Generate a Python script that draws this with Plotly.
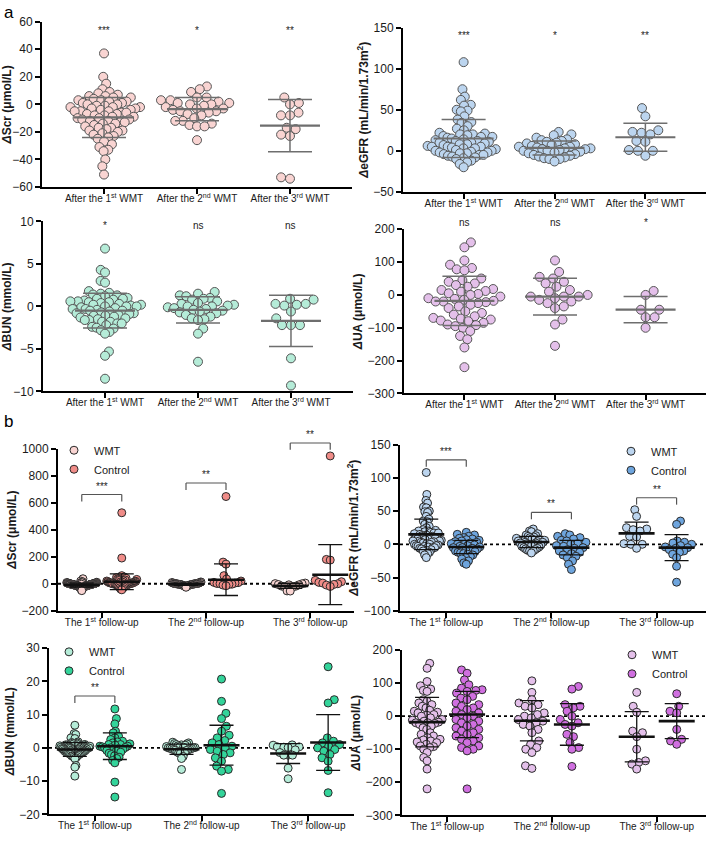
import numpy as np
import plotly.graph_objects as go

# ------------------------------------------------------------------ data
cat_a = ["After the 1<sup>st</sup> WMT", "After the 2<sup>nd</sup> WMT", "After the 3<sup>rd</sup> WMT"]
cat_b = ["The 1<sup>st</sup> follow-up", "The 2<sup>nd</sup> follow-up", "The 3<sup>rd</sup> follow-up"]

# ΔScr (µmol/L), WMT
scr_wmt_1 = [37, 20, 15, 11, 9, 8, 7, 6, 6, 5, 5, 4, 3, 3, 2, 2, 1, 1, 0, 0, -1, -1, -2, -2, -2, -3, -3, -4, -4,
             -5, -5, -5, -6, -6, -7, -7, -8, -8, -9, -9, -10, -10, -11, -11, -12, -12, -13, -13, -14, -14, -15,
             -16, -17, -17, -18, -19, -19, -20, -21, -22, -23, -24, -25, -27, -29, -31, -33, -34, -40, -45, -51]
scr_wmt_2 = [13, 11, 9, 5, 5, 3, 3, 2, 1, 1, 0, 0, -1, -2, -3, -3, -4, -5, -5, -6, -7, -8, -10, -12, -12, -14,
             -15, -16, -16, -26]
scr_wmt_3 = [5, 1, 0, -6, -8, -8, -17, -18, -22, -23, -53, -54]
scr_ctl_1 = [525, 190, 60, 50, 45, 40, 35, 32, 30, 28, 25, 22, 20, 18, 16, 15, 13, 12, 10, 9, 8, 6, 5, 4, 3, 2,
             1, 0, 0, -1, -2, -3, -5, -6, -8, -10, -12, -15, -18, -20, -25, -30, -35, -40, -45]
scr_ctl_2 = [645, 160, 145, 60, 35, 20, 10, 8, 5, 2, 0, -3, -5, -10, -15]
scr_ctl_3 = [945, 180, 175, 25, 15, 10, 5, 0, -5, -10, -20]

# ΔeGFR (mL/min/1.73m2), WMT
egfr_wmt_1 = [108, 75, 66, 62, 56, 55, 50, 49, 48, 42, 38, 35, 34, 30, 27, 25, 22, 21, 20, 20, 19, 18, 17, 17, 16,
              15, 14, 13, 12, 12, 11, 10, 10, 9, 8, 8, 7, 6, 5, 5, 5, 4, 3, 3, 2, 1, 0, 0, -1, -2, -2, -3, -3,
              -4, -5, -5, -6, -7, -8, -9, -10, -12, -14, -16, -20]
egfr_wmt_2 = [23, 20, 19, 16, 14, 13, 12, 11, 10, 9, 8, 7, 6, 5, 5, 4, 3, 3, 2, 2, 1, 0, 0, -1, -2, -3, -4, -5,
              -6, -7, -8, -9, -10, -10, -13]
egfr_wmt_3 = [52, 42, 25, 23, 22, 20, 12, 11, 1, 0, 0, -6]
egfr_ctl_1 = [18, 15, 14, 12, 10, 9, 8, 7, 6, 5, 4, 3, 2, 1, 0, 0, -1, -2, -3, -4, -5, -5, -6, -7, -8, -9, -10,
              -11, -12, -13, -14, -15, -16, -18, -20, -22, -25, -28, -30]
egfr_ctl_2 = [16, 14, 12, 10, 8, 6, 5, 3, 1, 0, -2, -3, -5, -6, -8, -10, -12, -14, -16, -18, -20, -25, -30, -38]
egfr_ctl_3 = [35, 30, 5, 3, 2, 0, -2, -4, -5, -6, -8, -10, -12, -15, -20, -33, -57]

# ΔBUN (mmol/L), WMT
bun_wmt_1 = [6.8, 4.3, 4.0, 3.0, 2.8, 1.8, 1.6, 1.5, 1.4, 1.3, 1.2, 1.0, 0.9, 0.9, 0.8, 0.7, 0.6, 0.6, 0.5, 0.5,
             0.4, 0.3, 0.2, 0.2, 0.1, 0.0, 0.0, 0.0, -0.1, -0.2, -0.3, -0.3, -0.4, -0.5, -0.5, -0.6, -0.7, -0.8,
             -0.8, -0.9, -1.0, -1.1, -1.1, -1.2, -1.3, -1.4, -1.5, -1.6, -1.6, -1.8, -1.8, -2.0, -2.0, -2.2, -2.4,
             -2.5, -2.6, -2.8, -3.0, -3.2, -5.3, -5.8, -8.5]
bun_wmt_2 = [1.7, 1.5, 1.3, 1.2, 1.0, 0.9, 0.8, 0.6, 0.4, 0.3, 0.2, 0.1, 0.0, 0.0, -0.1, -0.2, -0.3, -0.4, -0.5,
             -0.6, -0.7, -0.8, -1.0, -1.2, -1.4, -1.5, -1.6, -2.6, -3.2, -6.5]
bun_wmt_3 = [0.9, 0.8, 0.3, 0.3, 0.2, 0.1, -0.6, -1.4, -2.2, -2.2, -2.2, -6.1, -9.3]
bun_ctl_1 = [11.7, 8.8, 7.2, 5.0, 4.5, 3.5, 3.0, 2.5, 2.0, 1.8, 1.5, 1.2, 1.0, 1.0, 0.8, 0.5, 0.5, 0.3, 0.1, 0.0,
             0.0, -0.2, -0.4, -0.6, -0.8, -1.0, -1.3, -1.6, -2.0, -2.4, -2.8, -3.2, -3.8, -4.5, -10.3, -14.8]
bun_ctl_2 = [20.7, 14.0, 10.4, 8.8, 6.5, 5.0, 3.8, 3.0, 2.2, 1.5, 1.0, 0.5, 0.0, -0.5, -1.0, -1.5, -2.0, -3.0,
             -4.0, -5.5, -6.5, -7.0, -13.7]
bun_ctl_3 = [24.4, 14.5, 13.5, 3.0, 2.0, 1.5, 1.0, 0.5, 0.0, -0.5, -1.0, -2.0, -3.0, -4.0, -6.8, -13.5]

# ΔUA (µmol/L), WMT
ua_wmt_1 = [160, 145, 105, 92, 82, 78, 75, 50, 45, 40, 35, 30, 25, 18, 15, 12, 10, 5, 3, 0, -5, -10, -12, -15,
            -18, -20, -20, -22, -25, -30, -35, -40, -50, -55, -60, -65, -70, -72, -75, -78, -80, -85, -90, -92,
            -95, -100, -110, -125, -135, -160, -220]
ua_wmt_2 = [105, 70, 55, 50, 40, 35, 25, 15, 10, 0, -5, -5, -5, -10, -15, -20, -25, -35, -40, -75, -90, -155]
ua_wmt_3 = [12, 0, -45, -45, -68, -68, -100]
ua_wmt_b2 = [107, 72, 50, 40, 35, 30, 25, 10, 5, 0, -5, -10, -15, -20, -25, -30, -40, -50, -75, -85, -95, -100,
             -110, -150, -158]
ua_wmt_b3 = [72, 30, 12, -45, -50, -62, -100, -135, -140, -145, -160]
ua_ctl_1 = [140, 130, 110, 95, 85, 80, 78, 75, 70, 60, 55, 50, 40, 35, 30, 25, 20, 15, 10, 5, 0, -5, -10, -15,
            -20, -25, -30, -35, -40, -45, -50, -55, -60, -65, -70, -75, -80, -90, -95, -100, -105, -220]
ua_ctl_2 = [90, 82, 35, 30, 25, 15, 0, -10, -20, -25, -30, -55, -62, -80, -95, -100, -152]
ua_ctl_3 = [68, 30, 15, 10, -40, -70, -75, -85]

# means and SDs
scr_a_mean, scr_a_sd = [-9.5, -3.5, -15.5], [14.5, 8.5, 19]
egfr_a_mean, egfr_a_sd = [15, 3.5, 16.5], [23, 8.5, 17]
bun_a_mean, bun_a_sd = [-0.5, -0.4, -1.7], [2.05, 1.55, 3.0]
ua_a_mean, ua_a_sd = [-18, -5, -45], [75, 56, 40]

scr_ctl_mean, scr_ctl_sd = [15, 30, 67], [58, 117, 222]
egfr_ctl_mean, egfr_ctl_sd = [-4, -5, -5], [10, 11, 19.5]
bun_ctl_mean, bun_ctl_sd = [0.5, 0.8, 1.6], [4.0, 6.0, 8.4]
ua_wmt_b_mean, ua_wmt_b_sd = [-18, -14, -62], [75, 61, 76]
ua_ctl_mean, ua_ctl_sd = [5, -25, -15], [70, 63, 53]

sig_scr_a = ["***", "*", "**"]
sig_egfr_a = ["***", "*", "**"]
sig_bun_a = ["*", "ns", "ns"]
sig_ua_a = ["ns", "ns", "*"]

sig_scr_b, sig_scr_b_level = ["***", "**", "**"], [660, 745, 1041]
sig_egfr_b, sig_egfr_b_level = ["***", "**", "**"], [127, 48, 70]
sig_bun_b, sig_bun_b_level = ["**"], [15.6]

# ------------------------------------------------------------------ colours
C = dict(
    scr=("#f9d4d2", "#f08c88"),
    egfr=("#bcd5ef", "#6ea5de"),
    bun=("#b5ecd8", "#33d49a"),
    ua=("#e4c0ea", "#d06fe0"),
)

# ------------------------------------------------------------------ geometry
W, H = 708, 841
boxes = {  # left, right, top, bottom in px
    1: (42, 352, 15, 183), 2: (403, 706, 21, 188),
    3: (43, 353, 218, 391), 4: (404, 706, 226, 393),
    5: (58, 354, 449, 614), 6: (400, 706, 445, 614),
    7: (49, 354, 652, 821), 8: (402, 706, 654, 822),
}
xr = {1: (-0.667, 2.667), 2: (-0.667, 2.667), 3: (-0.667, 2.667), 4: (-0.667, 2.667),
      5: (-0.42, 2.42), 6: (-0.44, 2.47), 7: (-0.43, 2.43), 8: (-0.43, 2.47)}
yr = {1: (-60, 60, 20), 2: (-50, 150, 50), 3: (-10, 10, 5), 4: (-300, 200, 100),
      5: (-200, 1000, 200), 6: (-100, 150, 50), 7: (-20, 30, 10), 8: (-300, 200, 100)}

ST_A = dict(size=9, lw=1, outline="#555555", d=9.0, maxw=36, mean_hw=30, cap=22,
            bar="#6e6e6e", mean_w=2.2, bar_w=1.5)
ST_B = dict(size=8, lw=1, outline="#2a2a2a", d=7.0, maxw=15, mean_hw=18, cap=12,
            bar="#111111", mean_w=2.6, bar_w=1.3)

FONT = "Liberation Sans, Arial, sans-serif"


def sfx(n):
    return "" if n == 1 else str(n)


def ppu(n):
    l, r, t, b = boxes[n]
    return (r - l) / (xr[n][1] - xr[n][0]), (b - t) / (yr[n][1] - yr[n][0])


def swarm(vals, ppu_y, d, maxw):
    ys = np.asarray(vals, float) * ppu_y
    order = np.argsort(ys, kind="stable")
    out = np.zeros(len(ys))
    py, pxs = [], []
    flip = 1
    for i in order:
        y = ys[i]
        cands = [0.0]
        for qy, qx in zip(py, pxs):
            dy = y - qy
            if abs(dy) < d:
                dx = np.sqrt(d * d - dy * dy)
                cands += [qx + dx, qx - dx]
        flip = -flip
        cands.sort(key=lambda c: (round(abs(c), 3), flip * c))
        chosen = cands[-1]
        for c in cands:
            if all((c - qx) ** 2 + (y - qy) ** 2 >= d * d - 1e-6 for qy, qx in zip(py, pxs)):
                chosen = c
                break
        out[i] = chosen
        py.append(y)
        pxs.append(chosen)
    m = np.abs(out).max() if len(out) else 0
    if m > maxw:
        out *= maxw / m
    return out


fig = go.Figure()


def add_points(n, xc, vals, fill, st, name=None, legend=None):
    ux, uy = ppu(n)
    off = swarm(vals, uy, st["d"], st["maxw"]) / ux
    fig.add_trace(go.Scatter(
        x=xc + off, y=vals, mode="markers", xaxis=f"x{sfx(n)}", yaxis=f"y{sfx(n)}",
        marker=dict(size=st["size"], color=fill, line=dict(color=st["outline"], width=st["lw"])),
        cliponaxis=False, hoverinfo="y",
        name=name or "", showlegend=legend is not None, legend=legend or "legend",
    ))


def add_stats(n, xc, mean, sd, st):
    ux, uy = ppu(n)
    hw = st["mean_hw"] / ux
    fig.add_trace(go.Scatter(
        x=[xc], y=[mean], mode="markers", xaxis=f"x{sfx(n)}", yaxis=f"y{sfx(n)}",
        marker=dict(size=1, color="rgba(0,0,0,0)"),
        error_y=dict(type="data", array=[sd], visible=True, color=st["bar"],
                     thickness=st["bar_w"], width=st["cap"]),
        showlegend=False, hoverinfo="skip", cliponaxis=False,
    ))
    fig.add_trace(go.Scatter(
        x=[xc - hw, xc + hw], y=[mean, mean], mode="lines", xaxis=f"x{sfx(n)}", yaxis=f"y{sfx(n)}",
        line=dict(color=st["bar"], width=st["mean_w"]), showlegend=False, hoverinfo="skip",
    ))


annotations, shapes = [], []


def dom(n, v):
    lo, hi, _ = yr[n]
    return (v - lo) / (hi - lo)


# ---------------- panel a
a_panels = [
    (1, [scr_wmt_1, scr_wmt_2, scr_wmt_3], scr_a_mean, scr_a_sd, C["scr"][0], sig_scr_a, 54),
    (2, [egfr_wmt_1, egfr_wmt_2, egfr_wmt_3], egfr_a_mean, egfr_a_sd, C["egfr"][0], sig_egfr_a, 140),
    (3, [bun_wmt_1, bun_wmt_2, bun_wmt_3], bun_a_mean, bun_a_sd, C["bun"][0], sig_bun_a, 9.5),
    (4, [ua_wmt_1, ua_wmt_2, ua_wmt_3], ua_a_mean, ua_a_sd, C["ua"][0], sig_ua_a, 220),
]
for n, groups, means, sds, fill, sig, sig_y in a_panels:
    for i, vals in enumerate(groups):
        add_points(n, i, vals, fill, ST_A)
    for i in range(3):
        add_stats(n, i, means[i], sds[i], ST_A)
    for i, s in enumerate(sig):
        annotations.append(dict(x=i, y=dom(n, sig_y), xref=f"x{sfx(n)}", yref=f"y{sfx(n)} domain", text=s,
                                showarrow=False, font=dict(size=10, color="#222"), yanchor="middle"))

# ---------------- panel b
GROUP_PX = 20
b_panels = [
    (5, "scr", [scr_wmt_1, scr_wmt_2, scr_wmt_3], scr_a_mean, scr_a_sd,
     [scr_ctl_1, scr_ctl_2, scr_ctl_3], scr_ctl_mean, scr_ctl_sd, "legend"),
    (6, "egfr", [egfr_wmt_1, egfr_wmt_2, egfr_wmt_3], egfr_a_mean, egfr_a_sd,
     [egfr_ctl_1, egfr_ctl_2, egfr_ctl_3], egfr_ctl_mean, egfr_ctl_sd, "legend2"),
    (7, "bun", [bun_wmt_1, bun_wmt_2, bun_wmt_3], bun_a_mean, bun_a_sd,
     [bun_ctl_1, bun_ctl_2, bun_ctl_3], bun_ctl_mean, bun_ctl_sd, "legend3"),
    (8, "ua", [ua_wmt_1, ua_wmt_b2, ua_wmt_b3], ua_wmt_b_mean, ua_wmt_b_sd,
     [ua_ctl_1, ua_ctl_2, ua_ctl_3], ua_ctl_mean, ua_ctl_sd, "legend4"),
]
for n, key, wg, wm, ws, cg, cm, cs, leg in b_panels:
    ux, uy = ppu(n)
    g = GROUP_PX / ux
    shapes.append(dict(type="line", xref=f"x{n} domain", x0=0, x1=1, yref=f"y{n}", y0=0, y1=0,
                       line=dict(color="black", width=1.8, dash="dot"), layer="below"))
    for i in range(3):
        add_points(n, i - g, wg[i], C[key][0], ST_B, name="WMT", legend=leg if i == 0 else None)
    for i in range(3):
        add_points(n, i + g, cg[i], C[key][1], ST_B, name="Control", legend=leg if i == 0 else None)
    for i in range(3):
        add_stats(n, i - g, wm[i], ws[i], ST_B)
        add_stats(n, i + g, cm[i], cs[i], ST_B)

brackets = [(5, sig_scr_b, sig_scr_b_level), (6, sig_egfr_b, sig_egfr_b_level), (7, sig_bun_b, sig_bun_b_level)]
for n, labels, levels in brackets:
    ux, uy = ppu(n)
    g = GROUP_PX / ux
    hpx = boxes[n][3] - boxes[n][2]
    for i, (s, lv) in enumerate(zip(labels, levels)):
        yl = dom(n, lv)
        yt = yl - 7 / hpx
        for x0, y0, x1, y1 in [(i - g, yt, i - g, yl), (i - g, yl, i + g, yl), (i + g, yl, i + g, yt)]:
            shapes.append(dict(type="line", xref=f"x{n}", yref=f"y{n} domain", x0=x0, y0=y0, x1=x1, y1=y1,
                               line=dict(color="#555", width=1.2)))
        annotations.append(dict(x=i, y=yl + 1 / hpx, xref=f"x{n}", yref=f"y{n} domain", text=s,
                                showarrow=False, font=dict(size=10, color="#222"), yanchor="bottom"))

# panel letters
annotations.append(dict(x=2 / W, y=1 + 6 / H, xref="paper", yref="paper", text="a", showarrow=False,
                        xanchor="left", yanchor="top", font=dict(size=17, color="black")))
annotations.append(dict(x=2 / W, y=1 - 410 / H, xref="paper", yref="paper", text="b", showarrow=False,
                        xanchor="left", yanchor="top", font=dict(size=17, color="black")))

# ------------------------------------------------------------------ axes
ytitles = {
    1: "<i>Δ</i>Scr (μmol/L)", 2: "<i>Δ</i>eGFR (mL/min/1.73m<sup>2</sup>)",
    3: "<i>Δ</i>BUN (mmol/L)", 4: "<i>Δ</i>UA (μmol/L)",
    5: "<i>Δ</i>Scr (μmol/L)", 6: "<i>Δ</i>eGFR (mL/min/1.73m<sup>2</sup>)",
    7: "<i>Δ</i>BUN (mmol/L)", 8: "<i>Δ</i>UA (μmol/L)",
}
layout = dict(
    width=W, height=H, margin=dict(l=0, r=0, t=0, b=0),
    paper_bgcolor="white", plot_bgcolor="white",
    font=dict(family=FONT, color="#1a1a1a", size=12),
    annotations=annotations, shapes=shapes, hovermode="closest",
)
for n in range(1, 9):
    l, r, t, b = boxes[n]
    lo, hi, step = yr[n]
    layout[f"xaxis{sfx(n)}"] = dict(
        domain=[l / W, r / W], range=list(xr[n]), anchor=f"y{sfx(n)}",
        tickvals=[0, 1, 2], ticktext=cat_a if n <= 4 else cat_b,
        showline=True, linecolor="black", linewidth=2, ticks="outside", ticklen=5, tickwidth=2,
        tickcolor="black", showgrid=False, zeroline=False, tickfont=dict(size=10, color="#1a1a1a"),
        ticklabelstandoff=-4, fixedrange=True,
    )
    layout[f"yaxis{sfx(n)}"] = dict(
        domain=[1 - b / H, 1 - t / H], range=[lo, hi], anchor=f"x{sfx(n)}",
        tickvals=list(range(lo, hi + 1, step)),
        showline=True, linecolor="black", linewidth=2, ticks="outside", ticklen=5, tickwidth=2,
        tickcolor="black", showgrid=False, zeroline=False, tickfont=dict(size=12, color="#1a1a1a"),
        title=dict(text=ytitles[n], font=dict(size=12, color="#1a1a1a", weight="bold"), standoff=2),
        fixedrange=True,
    )

leg_common = dict(xanchor="left", yanchor="top", bgcolor="rgba(0,0,0,0)", font=dict(size=11, color="#1a1a1a"),
                  tracegroupgap=0, itemclick=False, itemdoubleclick=False)
layout["legend"] = dict(x=54 / W, y=1 - 436 / H, **leg_common)
layout["legend2"] = dict(x=611 / W, y=1 - 437 / H, **leg_common)
layout["legend3"] = dict(x=49 / W, y=1 - 641 / H, **leg_common)
layout["legend4"] = dict(x=612 / W, y=1 - 644 / H, **leg_common)

fig.update_layout(**layout)
# remove the page's default body margin so the 708x841 figure fills the window exactly
fig.write_html("out.html", config={"displayModeBar": False},
               post_script="document.body.style.margin='0';document.body.style.overflow='hidden';")
